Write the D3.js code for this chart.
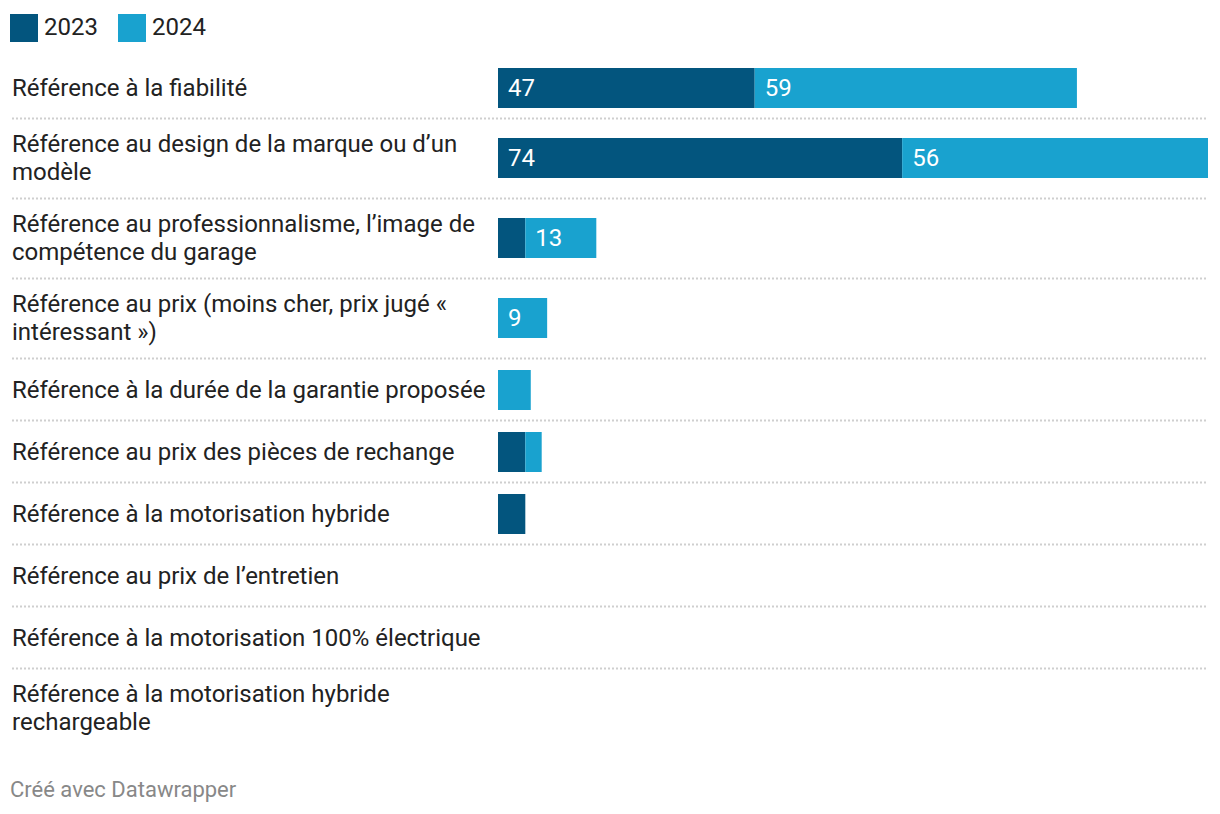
<!DOCTYPE html>
<html><head><meta charset="utf-8">
<script src="https://cdn.jsdelivr.net/npm/d3@7"></script>
<style>
body{margin:0;background:#fff;font-family:Roboto,sans-serif;}
svg{display:block;}
</style></head>
<body>
<svg id="chart" width="1220" height="814"></svg>
<script>
const categories = [
  "Référence à la fiabilité",
  "Référence au design de la marque ou d’un modèle",
  "Référence au professionnalisme, l’image de compétence du garage",
  "Référence au prix (moins cher, prix jugé « intéressant »)",
  "Référence à la durée de la garantie proposée",
  "Référence au prix des pièces de rechange",
  "Référence à la motorisation hybride",
  "Référence au prix de l’entretien",
  "Référence à la motorisation 100% électrique",
  "Référence à la motorisation hybride rechargeable"
];
const seriesNames = ["2023", "2024"];
const values2023 = [47, 74, 5, 0, 0, 5, 5, 0, 0, 0];
const values2024 = [59, 56, 13, 9, 6, 3, 0, 0, 0, 0];
const colors = ["#03557e", "#19a2cf"];
const footerText = "Créé avec Datawrapper";

const svg = d3.select("#chart");
const FS = 24;
const labelX = 12, wrapW = 480;
const x = d3.scaleLinear().domain([0, d3.max(categories, (c, i) => values2023[i] + values2024[i])]).range([498, 1208]);

// legend
const legend = svg.append("g");
let lx = 10;
seriesNames.forEach((s, i) => {
  legend.append("rect").attr("x", lx).attr("y", 14).attr("width", 28).attr("height", 28).attr("fill", colors[i]);
  legend.append("text").attr("x", lx + 34).attr("y", 27).attr("dy", "0.35em")
    .attr("font-size", FS).attr("fill", "#222").text(s);
  lx += 108;
});

function wrapLines(str) {
  const tmp = svg.append("text").attr("font-size", FS);
  const words = str.split(" ");
  const lines = [];
  let cur = "";
  words.forEach(w => {
    const test = cur ? cur + " " + w : w;
    tmp.text(test);
    if (tmp.node().getComputedTextLength() > wrapW && cur) { lines.push(cur); cur = w; }
    else cur = test;
  });
  if (cur) lines.push(cur);
  tmp.remove();
  return lines;
}

let y0 = 57;
const lineH = 28, barH = 40;
categories.forEach((c, i) => {
  const lines = wrapLines(c);
  const rowH = lines.length > 1 ? 80 : 62;
  const cy = y0 + rowH / 2 - (lines.length > 1 ? 1 : 0);
  const g = svg.append("g");
  const txt = g.append("text").attr("font-size", FS).attr("fill", "#222");
  lines.forEach((l, k) => {
    txt.append("tspan").attr("x", labelX)
      .attr("y", cy + (k - (lines.length - 1) / 2) * lineH)
      .attr("dy", "0.35em").text(l);
  });
  const segs = [values2023[i], values2024[i]];
  let acc = 0;
  segs.forEach((v, s) => {
    if (v > 0) {
      const x0 = x(acc), x1 = x(acc + v);
      g.append("rect").attr("x", x0).attr("y", cy - barH / 2).attr("width", x1 - x0).attr("height", barH).attr("fill", colors[s]);
      const lab = g.append("text").attr("x", x0 + 10).attr("y", cy).attr("dy", "0.35em")
        .attr("font-size", FS).attr("fill", "#fff").text(v);
      if (lab.node().getComputedTextLength() + 24 > x1 - x0) lab.remove();
    }
    acc += v;
  });
  y0 += rowH;
  if (i < categories.length - 1) {
    svg.append("line").attr("x1", 12).attr("x2", 1208).attr("y1", y0 - 0.5).attr("y2", y0 - 0.5)
      .attr("stroke", "#cfcfcf").attr("stroke-width", 2).attr("stroke-dasharray", "2,2");
  }
});

svg.append("text").attr("x", 10).attr("y", 789).attr("dy", "0.35em")
  .attr("font-size", 22).attr("fill", "#888").text(footerText);
</script>
</body></html>
